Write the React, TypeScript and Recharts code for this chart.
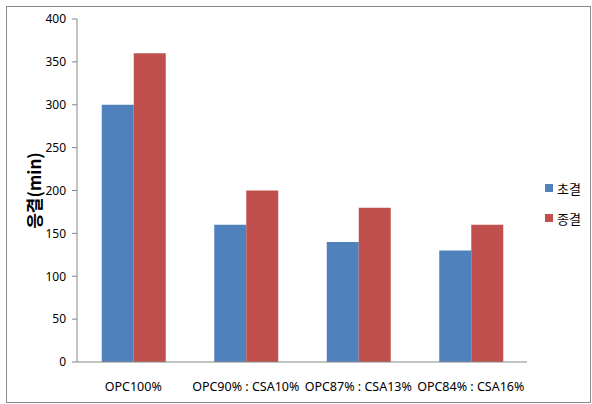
import React from 'react';
import { BarChart, Bar, XAxis, YAxis } from 'recharts';

const categories = ['OPC100%', 'OPC90% : CSA10%', 'OPC87% : CSA13%', 'OPC84% : CSA16%'];
const initialSet = [300, 160, 140, 130];
const finalSet = [360, 200, 180, 160];
const yTicks = [0, 50, 100, 150, 200, 250, 300, 350, 400];
const seriesNames = ['초결', '종결'];
const colors = ['#4F81BD', '#C0504D'];

const data = categories.map((c, i) => ({ name: c, a: initialSet[i], b: finalSet[i] }));

const FONT = '"Noto Sans", "Noto Sans CJK KR", sans-serif';

export default function App() {
  return (
    <div style={{ position: 'absolute', left: 0, top: 0, width: 592, height: 404, background: '#fff' }}>
      <div style={{ position: 'absolute', left: 6, top: 6, width: 583, height: 395, border: '1px solid #8c8c8c' }} />
      <div style={{ position: 'absolute', left: 0, top: 0 }}>
        <BarChart width={592} height={404} data={data} margin={{ top: 19, right: 65, bottom: 12, left: 0 }} barCategoryGap="22%" barGap={0}>
          <XAxis dataKey="name" height={30} tickLine={false} axisLine={{ stroke: '#868686' }} tick={{ fill: '#000', fontSize: 12.5, fontFamily: FONT }} tickMargin={14} interval={0} />
          <YAxis width={77} domain={[0, 400]} ticks={yTicks} axisLine={{ stroke: '#868686' }} tickLine={{ stroke: '#868686' }} tickSize={5} tickMargin={6} tick={{ fill: '#000', fontSize: 12, fontFamily: FONT }}
            label={{ value: '응결(min)', angle: -90, position: 'center', dx: -4, style: { fontFamily: '"Noto Sans CJK KR", sans-serif', fontWeight: 700, fontSize: 17, fill: '#000' } }} />
          <Bar dataKey="a" name={seriesNames[0]} fill={colors[0]} isAnimationActive={false} />
          <Bar dataKey="b" name={seriesNames[1]} fill={colors[1]} isAnimationActive={false} />
        </BarChart>
      </div>
      <div style={{ position: 'absolute', left: 545, top: 173, fontFamily: '"Noto Sans CJK KR", sans-serif', fontSize: 13, color: '#000' }}>
        {seriesNames.map((n, i) => (
          <div key={n} style={{ display: 'flex', alignItems: 'center', height: 30 }}>
            <span style={{ display: 'inline-block', width: 8, height: 8, background: colors[i], marginRight: 4 }} />
            <span>{n}</span>
          </div>
        ))}
      </div>
    </div>
  );
}
